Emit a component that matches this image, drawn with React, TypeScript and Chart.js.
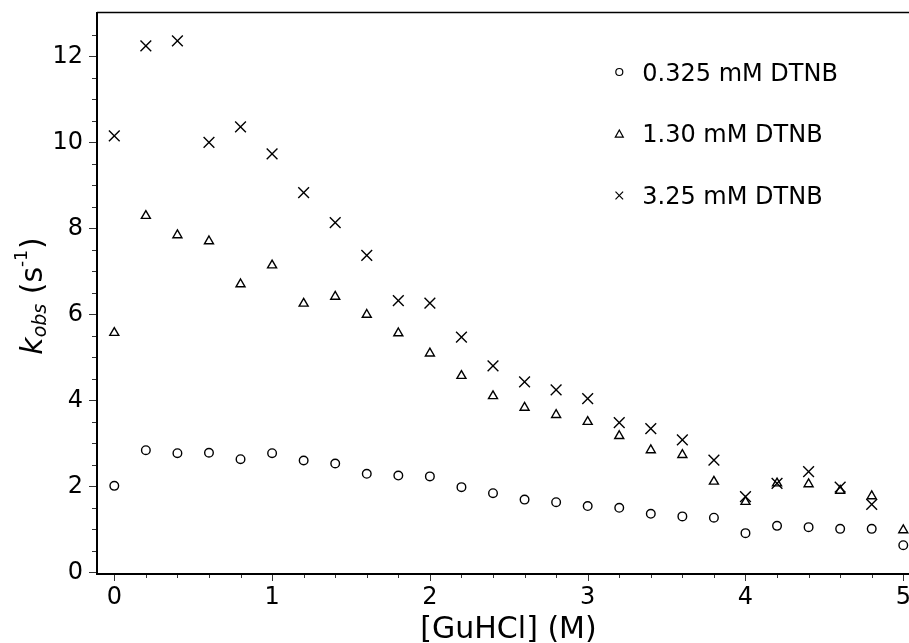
import React, { useEffect, useRef } from 'react';
import { Chart, registerables } from 'chart.js';

Chart.register(...registerables);

// Denaturant concentration, [GuHCl] in M
const guhcl = [0, 0.2, 0.4, 0.6, 0.8, 1.0, 1.2, 1.4, 1.6, 1.8, 2.0, 2.2, 2.4, 2.6, 2.8, 3.0, 3.2, 3.4, 3.6, 3.8, 4.0, 4.2, 4.4, 4.6, 4.8, 5.0];

// Observed rate constants k_obs (s^-1) at three DTNB concentrations
const kobsLow = [2.01, 2.84, 2.77, 2.78, 2.63, 2.77, 2.60, 2.53, 2.29, 2.25, 2.23, 1.98, 1.84, 1.69, 1.63, 1.54, 1.50, 1.36, 1.30, 1.27, 0.91, 1.08, 1.05, 1.01, 1.01, 0.63];
const kobsMid = [5.57, 8.29, 7.84, 7.70, 6.70, 7.14, 6.25, 6.41, 5.99, 5.56, 5.09, 4.57, 4.10, 3.83, 3.66, 3.50, 3.17, 2.84, 2.73, 2.11, 1.64, 2.07, 2.05, 1.90, 1.77, 0.98];
const kobsHigh = [10.15, 12.24, 12.36, 10.00, 10.36, 9.73, 8.83, 8.13, 7.37, 6.32, 6.26, 5.47, 4.80, 4.43, 4.24, 4.04, 3.48, 3.34, 3.08, 2.61, 1.76, 2.07, 2.34, 1.98, 1.58, null];

const seriesLabels = ['0.325 mM DTNB', '1.30 mM DTNB', '3.25 mM DTNB'];
const seriesStyles = ['circle', 'triangle', 'crossRot'];

const xMajorTicks = [0, 1, 2, 3, 4, 5];
const yMajorTicks = [0, 2, 4, 6, 8, 10, 12];

const xTitle = '[GuHCl] (M)';
const FONT = "'DejaVu Sans', 'Liberation Sans', sans-serif";

function toPoints(ys: (number | null)[]) {
  const pts: { x: number; y: number }[] = [];
  guhcl.forEach((x, i) => {
    const y = ys[i];
    if (y !== null && y !== undefined) pts.push({ x, y });
  });
  return pts;
}

function drawMarker(ctx: CanvasRenderingContext2D, style: string, x: number, y: number, r: number) {
  ctx.beginPath();
  if (style === 'circle') {
    ctx.arc(x, y, r, 0, Math.PI * 2);
  } else if (style === 'triangle') {
    const h = r * 0.9;
    ctx.moveTo(x, y - h);
    ctx.lineTo(x - r, y + h);
    ctx.lineTo(x + r, y + h);
    ctx.closePath();
  } else {
    ctx.moveTo(x - r, y - r);
    ctx.lineTo(x + r, y + r);
    ctx.moveTo(x + r, y - r);
    ctx.lineTo(x - r, y + r);
  }
  ctx.stroke();
}

// Spines, major/minor tick marks, axis titles and the legend
const axesFrame = {
  id: 'axesFrame',
  afterDraw(chart: any) {
    const { ctx, chartArea: a, scales } = chart;
    const xs = scales.x;
    const ys = scales.y;
    ctx.save();

    // tick marks
    ctx.strokeStyle = '#333';
    ctx.lineWidth = 1;
    for (let i = 0; i <= 25; i++) {
      const px = Math.round(xs.getPixelForValue(i / 5)) + 0.5;
      const len = i % 5 === 0 ? 7 : 4;
      ctx.beginPath();
      ctx.moveTo(px, a.bottom);
      ctx.lineTo(px, a.bottom + len);
      ctx.stroke();
    }
    for (let i = 0; i <= 26; i++) {
      const v = i / 2;
      const py = Math.round(ys.getPixelForValue(v)) + 0.5;
      if (py < a.top + 3) break;
      const len = i % 4 === 0 ? 8 : 5;
      ctx.beginPath();
      ctx.moveTo(a.left - len, py);
      ctx.lineTo(a.left, py);
      ctx.stroke();
    }

    // spines
    ctx.strokeStyle = '#000';
    ctx.lineWidth = 1.6;
    ctx.beginPath();
    ctx.moveTo(a.left, a.top + 0.5);
    ctx.lineTo(a.right, a.top + 0.5);
    ctx.stroke();
    ctx.lineWidth = 2;
    ctx.beginPath();
    ctx.moveTo(a.left, a.top);
    ctx.lineTo(a.left, a.bottom);
    ctx.lineTo(a.right, a.bottom);
    ctx.lineTo(a.right, a.top);
    ctx.stroke();

    // x-axis title
    ctx.fillStyle = '#000';
    ctx.font = `30px ${FONT}`;
    ctx.textAlign = 'center';
    ctx.textBaseline = 'alphabetic';
    ctx.fillText(xTitle, (a.left + a.right) / 2, a.bottom + 63.5);

    // y-axis title: k_obs (s^-1), rotated
    const parts = [
      { t: 'k', font: `italic 30px ${FONT}`, dy: 0, gap: 0 },
      { t: 'obs', font: `italic 19px ${FONT}`, dy: 4, gap: 0 },
      { t: ' (s', font: `30px ${FONT}`, dy: 0, gap: 0 },
      { t: '-1', font: `17px ${FONT}`, dy: -15, gap: 0 },
      { t: ')', font: `30px ${FONT}`, dy: 0, gap: 1 },
    ];
    let total = 0;
    parts.forEach((p) => {
      ctx.font = p.font;
      total += ctx.measureText(p.t).width + p.gap;
    });
    ctx.translate(41.7, (a.top + a.bottom) / 2 + 3);
    ctx.rotate(-Math.PI / 2);
    ctx.textAlign = 'left';
    let cx = -total / 2;
    parts.forEach((p) => {
      ctx.font = p.font;
      cx += p.gap;
      ctx.fillText(p.t, cx, p.dy);
      cx += ctx.measureText(p.t).width;
    });
    ctx.setTransform(1, 0, 0, 1, 0, 0);

    // legend
    const rowBase = [80.7, 142.3, 204.2];
    const legendSizes = [3.5, 4, 3.8];
    ctx.font = `24px ${FONT}`;
    ctx.textAlign = 'left';
    ctx.textBaseline = 'alphabetic';
    ctx.lineWidth = 1.2;
    ctx.strokeStyle = '#000';
    seriesLabels.forEach((label, i) => {
      const base = rowBase[i];
      drawMarker(ctx, seriesStyles[i], 619.3, base - 8.7, legendSizes[i]);
      ctx.fillText(label, 642.3, base);
    });

    ctx.restore();
  },
};

export default function App() {
  const ref = useRef<HTMLCanvasElement>(null);

  useEffect(() => {
    const canvas = ref.current;
    if (!canvas) return;
    const radii = [4.3, 5.2, 7.6];
    const sets = [kobsLow, kobsMid, kobsHigh];
    const chart = new Chart(canvas, {
      type: 'scatter',
      data: {
        datasets: sets.map((ys, i) => ({
          label: seriesLabels[i],
          data: toPoints(ys),
          pointStyle: seriesStyles[i] as any,
          pointRadius: radii[i],
          pointBorderWidth: 1.4,
          pointBorderColor: '#000',
          pointBackgroundColor: 'rgba(0,0,0,0)',
          showLine: false,
        })),
      },
      options: {
        animation: false,
        responsive: false,
        maintainAspectRatio: false,
        events: [],
        layout: { padding: { top: 12, right: 20, bottom: 0, left: 0 } },
        plugins: {
          legend: { display: false },
          tooltip: { enabled: false },
        },
        scales: {
          x: {
            type: 'linear',
            min: -0.1096,
            max: 5.106,
            afterFit: (s: any) => {
              s.height = 69;
              s.paddingLeft = 0;
              s.paddingRight = 0;
              s.paddingTop = 0;
              s.paddingBottom = 0;
            },
            afterBuildTicks: (s: any) => {
              s.ticks = xMajorTicks.map((v) => ({ value: v }));
            },
            grid: { display: false, drawTicks: false, tickLength: 0 },
            border: { display: false },
            ticks: {
              padding: 9,
              maxRotation: 0,
              autoSkip: false,
              color: '#000',
              font: { family: FONT, size: 24 },
              callback: (v: any) => String(v),
            },
          },
          y: {
            type: 'linear',
            min: -0.04,
            max: 13.03,
            afterFit: (s: any) => {
              s.width = 97;
              s.paddingLeft = 0;
              s.paddingRight = 0;
              s.paddingTop = 0;
              s.paddingBottom = 0;
            },
            afterBuildTicks: (s: any) => {
              s.ticks = yMajorTicks.map((v) => ({ value: v }));
            },
            grid: { display: false, drawTicks: false, tickLength: 0 },
            border: { display: false },
            ticks: {
              padding: 14,
              autoSkip: false,
              color: '#000',
              font: { family: FONT, size: 24 },
              callback: (v: any) => String(v),
            },
          },
        },
      },
      plugins: [axesFrame],
    });
    return () => chart.destroy();
  }, []);

  return (
    <div
      style={{
        position: 'absolute',
        left: 0,
        top: 0,
        width: 909,
        height: 643,
        overflow: 'hidden',
        background: '#fff',
      }}
    >
      <canvas ref={ref} width={940} height={643} style={{ display: 'block' }} />
    </div>
  );
}
